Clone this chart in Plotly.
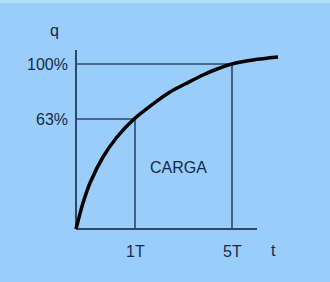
import plotly.graph_objects as go

# Curve readings (t offset, q offset) in chart units
curve_t = [0, 7, 14, 27, 41, 57, 77, 94, 111, 127, 141, 156, 177, 202]
curve_q = [0, 26, 46, 72, 92, 109, 125, 137, 146, 154, 160, 165, 169, 172]

# Tick positions and labels
x_ticks = [59, 156]
x_labels = ["1T", "5T"]
y_ticks = [110, 165]
y_labels = ["63%", "100%"]

x_axis_end = 181
y_axis_end = 179

BG = "#9bcdfb"
LINE = "#2d4869"
TXT = "#152a48"
FONT = "Liberation Sans, Arial, sans-serif"

fig = go.Figure()

# axes
fig.add_trace(go.Scatter(x=[0, x_axis_end], y=[0, 0], mode="lines",
                         line=dict(color=LINE, width=2), hoverinfo="skip"))
fig.add_trace(go.Scatter(x=[0, 0], y=[0, y_axis_end], mode="lines",
                         line=dict(color=LINE, width=2), hoverinfo="skip"))

# guide lines
for xt, yt in zip(x_ticks, y_ticks):
    fig.add_trace(go.Scatter(x=[0, xt, xt], y=[yt, yt, 0], mode="lines",
                             line=dict(color=LINE, width=1.6), hoverinfo="skip"))

# charging curve
fig.add_trace(go.Scatter(x=curve_t, y=curve_q, mode="lines",
                         line=dict(color="#000000", width=3.5, shape="spline",
                                   smoothing=1.0),
                         hoverinfo="skip"))

ann = []
for xt, lab in zip(x_ticks, x_labels):
    ann.append(dict(x=xt, y=-22, text=lab, showarrow=False,
                    xanchor="center", yanchor="middle"))
for yt, lab in zip(y_ticks, y_labels):
    ann.append(dict(x=-6, y=yt, text=lab, showarrow=False,
                    xanchor="right", yanchor="middle"))
ann.append(dict(x=-22, y=199, text="q", showarrow=False,
                xanchor="center", yanchor="middle"))
ann.append(dict(x=197, y=-21, text="t", showarrow=False,
                xanchor="center", yanchor="middle"))
ann.append(dict(x=102, y=62, text="CARGA", showarrow=False,
                xanchor="center", yanchor="middle"))
for a in ann:
    a["font"] = dict(family=FONT, size=16, color=TXT)

fig.update_layout(
    width=330, height=282,
    margin=dict(l=0, r=0, t=0, b=0),
    paper_bgcolor=BG, plot_bgcolor=BG,
    showlegend=False,
    xaxis=dict(range=[-76, 254], visible=False, fixedrange=True),
    yaxis=dict(range=[-53, 229], visible=False, fixedrange=True),
    annotations=ann,
    shapes=[dict(type="rect", xref="paper", yref="paper",
                 x0=0, x1=1, y0=1 - 3 / 282, y1=1,
                 fillcolor="#b2e0f2", line=dict(width=0), layer="below")],
)

fig.write_html("out.html")
